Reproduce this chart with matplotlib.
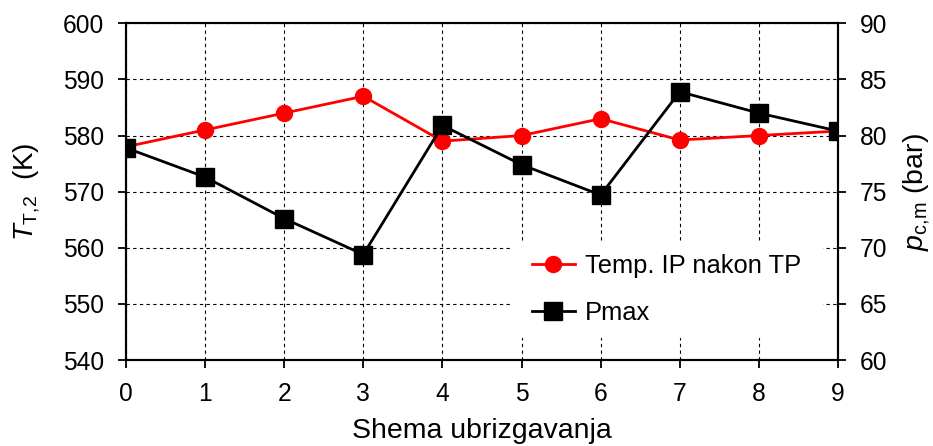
import matplotlib
matplotlib.use("Agg")
import matplotlib.pyplot as plt
from matplotlib.patches import Rectangle

# podaci ocitani sa slike
shema = [0, 1, 2, 3, 4, 5, 6, 7, 8, 9]
temp_ip = [578, 581, 584, 587, 579, 580, 583, 579.2, 580, 580.8]
pmax = [78.9, 76.3, 72.6, 69.4, 80.9, 77.4, 74.7, 83.9, 82.0, 80.4]

left_ticks = [540, 550, 560, 570, 580, 590, 600]
right_ticks = [60, 65, 70, 75, 80, 85, 90]

plt.rcParams['font.family'] = ['Liberation Sans', 'DejaVu Sans']
plt.rcParams['mathtext.fontset'] = 'custom'
plt.rcParams['mathtext.rm'] = 'Liberation Sans'
plt.rcParams['mathtext.it'] = 'Liberation Sans:italic'

W, H = 933, 446
fig = plt.figure(figsize=(9.33, 4.46), dpi=100)
ax = fig.add_axes([126/W, 1 - 360/H, (838 - 126)/W, (360 - 23.3)/H])
ax2 = ax.twinx()

l1, = ax.plot(shema, temp_ip, color='#ff0000', lw=2, marker='o', ms=11.5,
              label='Temp. IP nakon TP', zorder=3)
l2, = ax2.plot(shema, pmax, color='black', lw=2, marker='s', ms=12.5,
               label='Pmax', zorder=3)

ax.set_xlim(0, 9)
ax.set_ylim(540, 600)
ax2.set_ylim(60, 90)
ax.set_xticks(shema)
ax.set_yticks(left_ticks)
ax2.set_yticks(right_ticks)

ax.grid(True, color='black', lw=0.8, linestyle=(0, (3, 3)))
ax.set_axisbelow(True)

for a in (ax, ax2):
    for s in a.spines.values():
        s.set_linewidth(1.5)
    a.tick_params(direction='out', length=5.5, width=1.3, labelsize=17.7, pad=10)

ax.set_xlabel('Shema ubrizgavanja', fontsize=20.5, labelpad=9)
ax.set_ylabel(r'$T_{\mathrm{T{,}2}}$  (K)', fontsize=20, labelpad=15)
ax2.set_ylabel(r'$p_{\mathrm{c{,}m}}$ (bar)', fontsize=20.5, labelpad=10)

# bijela podloga legende preko mreze
ax.add_patch(Rectangle((510/W, 1 - 338/H), (823 - 510)/W, (338 - 241)/H,
                       transform=fig.transFigure, facecolor='white',
                       edgecolor='none', zorder=2))

leg = ax2.legend([l1, l2], ['Temp. IP nakon TP', 'Pmax'], loc='center',
                 bbox_to_anchor=(666.5/W, 1 - 289.5/H), bbox_transform=fig.transFigure,
                 fontsize=18.4, frameon=False, handlelength=1.7, handletextpad=0.4,
                 labelspacing=0.9, borderpad=0.9, borderaxespad=0)

fig.savefig('out.png', dpi=100)
